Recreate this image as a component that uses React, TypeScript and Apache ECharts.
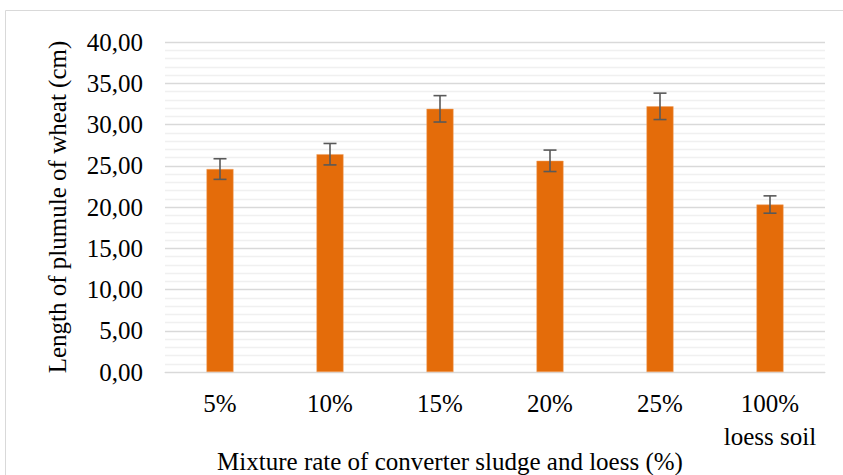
import React, { useEffect, useRef } from "react";
import * as echarts from "echarts";

const categories = ["5%", "10%", "15%", "20%", "25%", "100%\nloess soil"];
const means = [24.6, 26.4, 31.9, 25.6, 32.2, 20.3];
const errors = [1.25, 1.3, 1.6, 1.3, 1.6, 1.05];
const yTicks = { min: 0, max: 40, interval: 5 };

export default function App() {
  const ref = useRef<HTMLDivElement>(null);
  useEffect(() => {
    document.body.style.margin = "0";
    const chart = echarts.init(ref.current!, undefined, { renderer: "svg" });
    const font = "Liberation Serif";
    const errData = means.map((m, i) => [i, m - errors[i], m + errors[i]]);
    chart.setOption({
      animation: false,
      backgroundColor: "#ffffff",
      textStyle: { fontFamily: font },
      graphic: [
        {
          type: "rect",
          shape: { x: 5.5, y: 10.5, width: 860, height: 480 },
          style: { fill: "none", stroke: "#d9d9d9", lineWidth: 1 },
          silent: true,
        },
      ],
      grid: { left: 165, right: 18, top: 42, bottom: 103, outerBoundsMode: "none", containLabel: false },
      xAxis: {
        type: "category",
        data: categories,
        axisLine: { show: true, lineStyle: { color: "#d9d9d9", width: 1 } },
        axisTick: { show: false },
        axisLabel: {
          color: "#000",
          fontFamily: font,
          fontSize: 25,
          margin: 15,
          lineHeight: 33,
          interval: 0,
        },
        name: "Mixture rate of converter sludge and loess (%)",
        nameLocation: "middle",
        nameGap: 77,
        nameMoveOverlap: false,
        nameTextStyle: { color: "#000", fontFamily: font, fontSize: 25, padding: [0, 90, 0, 0] },
      },
      yAxis: {
        type: "value",
        min: yTicks.min,
        max: yTicks.max,
        interval: yTicks.interval,
        axisLine: { show: false },
        axisTick: { show: false },
        axisLabel: {
          color: "#000",
          fontFamily: font,
          fontSize: 25,
          margin: 22,
          formatter: (v: number) => v.toFixed(2).replace(".", ","),
        },
        splitLine: { show: true, lineStyle: { color: "#d9d9d9", width: 1.3 } },
        minorTick: { show: false, splitNumber: 5 },
        minorSplitLine: { show: true, lineStyle: { color: "#f0f0f0", width: 1.3 } },
        name: "Length of plumule of wheat (cm)",
        nameLocation: "middle",
        nameGap: 95,
        nameMoveOverlap: false,
        nameRotate: 90,
        nameTextStyle: { color: "#000", fontFamily: font, fontSize: 25 },
      },
      series: [
        {
          type: "bar",
          data: means,
          barWidth: 27,
          itemStyle: { color: "#E46C0A", borderColor: "#F0A060", borderWidth: 0.5 },
          z: 2,
        },
        {
          type: "custom",
          data: errData,
          z: 5,
          renderItem: (params: any, api: any) => {
            const x = api.value(0);
            const lo = api.coord([x, api.value(1)]);
            const hi = api.coord([x, api.value(2)]);
            const cap = 6.5;
            const style = { stroke: "#595959", lineWidth: 1.6 };
            return {
              type: "group",
              children: [
                { type: "line", shape: { x1: lo[0], y1: lo[1], x2: hi[0], y2: hi[1] }, style },
                { type: "line", shape: { x1: lo[0] - cap, y1: lo[1], x2: lo[0] + cap, y2: lo[1] }, style },
                { type: "line", shape: { x1: hi[0] - cap, y1: hi[1], x2: hi[0] + cap, y2: hi[1] }, style },
              ],
            };
          },
        },
      ],
    });
    return () => chart.dispose();
  }, []);
  return <div ref={ref} style={{ width: 843, height: 475 }} />;
}
